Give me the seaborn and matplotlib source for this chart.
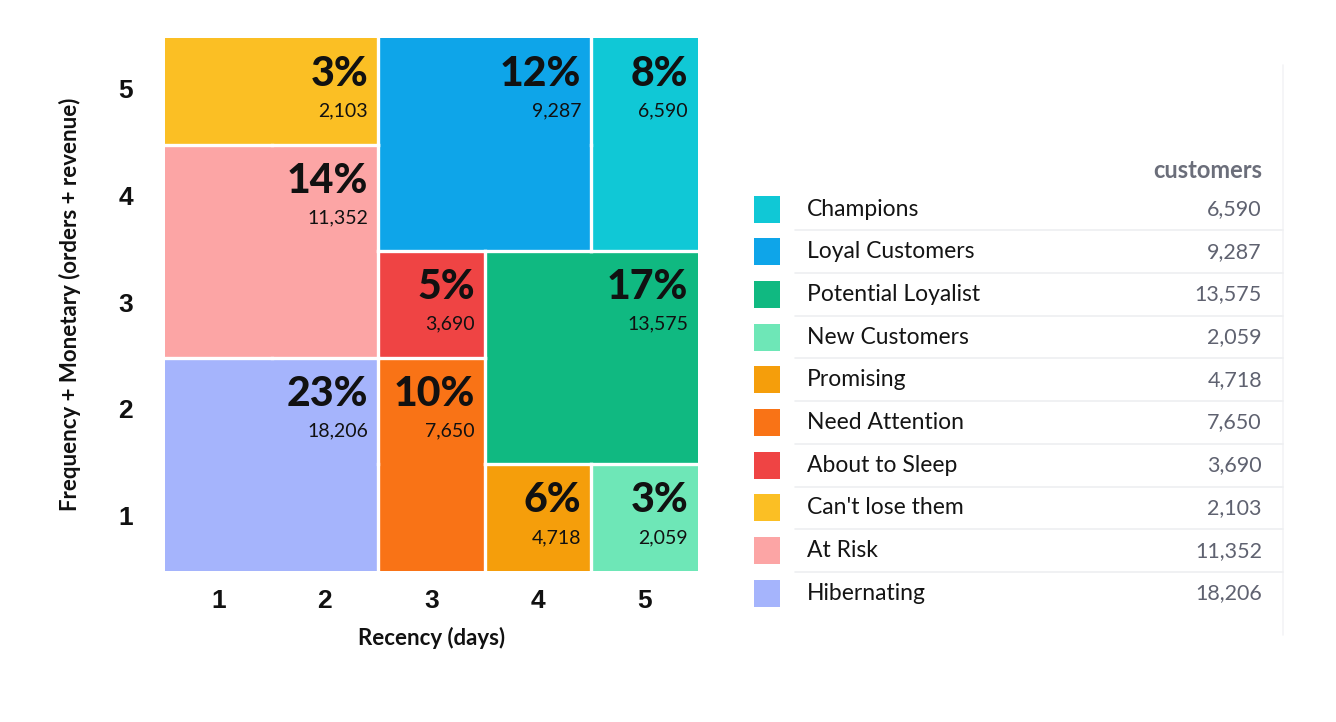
import numpy as np
import pandas as pd
import seaborn as sns
import matplotlib
matplotlib.use("Agg")
import matplotlib.pyplot as plt
from matplotlib.colors import ListedColormap
from matplotlib.patches import Rectangle

# ---------------- data ----------------
segments = ["Champions", "Loyal Customers", "Potential Loyalist", "New Customers",
            "Promising", "Need Attention", "About to Sleep", "Can't lose them",
            "At Risk", "Hibernating"]
customers = [6590, 9287, 13575, 2059, 4718, 7650, 3690, 2103, 11352, 18206]
seg_colors = ["#10c8d6", "#0ea5e9", "#10b981", "#6ee7b7", "#f59e0b",
              "#f97316", "#ef4444", "#fbbf24", "#fca5a5", "#a5b4fc"]
recency_labels = [1, 2, 3, 4, 5]
fm_labels = [5, 4, 3, 2, 1]
# segment index of each grid cell: rows = Frequency+Monetary 5..1, cols = Recency 1..5
grid = [[7, 7, 1, 1, 0],
        [8, 8, 1, 1, 0],
        [8, 8, 6, 2, 2],
        [9, 9, 5, 2, 2],
        [9, 9, 5, 4, 3]]

# ---------------- style ----------------
sns.set_theme(style="white")
plt.rcParams["font.family"] = ["Lato", "DejaVu Sans"]

W, H = 1336, 722
fig = plt.figure(figsize=(W / 100, H / 100), dpi=100)
fig.patch.set_facecolor("white")

# main grid axes
ax = fig.add_axes([165 / W, 1 - 571 / H, 533 / W, 533 / H])
df = pd.DataFrame(grid, index=fm_labels, columns=recency_labels)
sns.heatmap(df, cmap=ListedColormap(seg_colors), vmin=-0.5, vmax=len(segments) - 0.5,
            cbar=False, linewidths=0, ax=ax)

G = np.array(grid)
nr, nc = G.shape
# white separators between different segments
for i in range(nr):
    for j in range(nc):
        if j + 1 < nc and G[i, j] != G[i, j + 1]:
            ax.plot([j + 1, j + 1], [i, i + 1], color="white", lw=2.4,
                    solid_capstyle="projecting")
        if i + 1 < nr and G[i, j] != G[i + 1, j]:
            ax.plot([j, j + 1], [i + 1, i + 1], color="white", lw=2.4,
                    solid_capstyle="projecting")
ax.set_xlim(0, nc)
ax.set_ylim(nr, 0)

total = sum(customers)
for k, name in enumerate(segments):
    rows, cols = np.where(G == k)
    x_right = cols.max() + 1
    y_top = rows.min()
    pct = round(100 * customers[k] / total)
    ax.annotate(f"{pct}%", xy=(x_right, y_top), xytext=(-10, -36),
                textcoords="offset pixels", ha="right", va="center",
                fontsize=29.5, fontweight="black", color="#111111")
    ax.annotate(f"{customers[k]:,}", xy=(x_right, y_top), xytext=(-10, -73),
                textcoords="offset pixels", ha="right", va="center",
                fontsize=14, color="#111111")

for s in ax.spines.values():
    s.set_visible(False)
ax.tick_params(axis="both", length=0)
ax.tick_params(axis="x", pad=13)
ax.tick_params(axis="y", pad=23)
for t in ax.get_xticklabels() + ax.get_yticklabels():
    t.set_fontfamily(["Liberation Sans", "DejaVu Sans"])
    t.set_fontweight("bold")
    t.set_fontsize(19)
    t.set_color("#111111")
    t.set_rotation(0)
ax.set_xlabel("Recency (days)", fontsize=16, fontweight="bold", color="#111111")
ax.set_ylabel("Frequency + Monetary (orders + revenue)", fontsize=16,
              fontweight="bold", color="#111111")
ax.xaxis.set_label_coords(0.5, -(627 - 571) / 533)
ax.yaxis.set_label_coords(-(165 - 81) / 533, 0.5)

# ---------------- legend table ----------------
lx = fig.add_axes([0, 0, 1, 1], facecolor="none")
lx.set_xlim(0, W)
lx.set_ylim(H, 0)
lx.axis("off")

row0, dy = 209, 42.7
lx.plot([1283, 1283], [65, 635], color="#f3f4f6", lw=1.2)
lx.text(1262, 170, "customers", ha="right", va="center", fontsize=17,
        fontweight="bold", color="#6b6e7a")
for k, name in enumerate(segments):
    yc = row0 + k * dy
    lx.add_patch(Rectangle((754, yc - 13.5), 26, 27, facecolor=seg_colors[k],
                           edgecolor="none"))
    lx.text(807, yc, name, ha="left", va="center", fontsize=16.5, color="#141414")
    lx.text(1262, yc, f"{customers[k]:,}", ha="right", va="center", fontsize=15.5,
            color="#5f6270")
    if k < len(segments) - 1:
        lx.plot([795, 1283], [yc + dy / 2, yc + dy / 2], color="#eeeff1", lw=1.2)

fig.savefig("out.png", dpi=100)
